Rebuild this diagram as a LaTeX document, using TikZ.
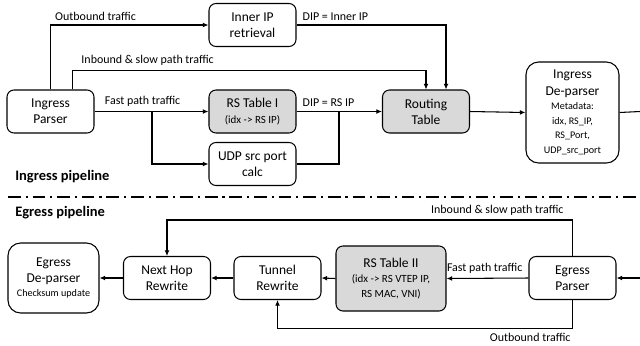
\documentclass[tikz,border=0pt]{standalone}
\usepackage{fontspec}
\setmainfont{Carlito}
\usetikzlibrary{arrows.meta}

\newcommand{\mainsz}{\fontsize{9.6}{11.5}\selectfont}
\newcommand{\smallsz}{\fontsize{7.8}{9}\selectfont}
\newcommand{\tinysz}{\fontsize{7.2}{8.5}\selectfont}

\begin{document}
\begin{tikzpicture}[x=0.025cm,y=-0.025cm,
  box/.style={draw,line width=0.75pt,rounded corners=5pt,align=center,font=\mainsz,
    minimum width=2.175cm,minimum height=1.075cm,inner sep=1pt},
  table/.style={box,fill=black!15},
  bigbox/.style={box,rounded corners=9pt},
  lbl/.style={font=\fontsize{8.5}{10}\selectfont,inner sep=1pt},
  arr/.style={-{Latex[length=4pt,width=3.5pt]},line width=0.75pt},
  conn/.style={line width=0.75pt},
  section/.style={font=\bfseries\fontsize{10.3}{12}\selectfont,anchor=west,inner sep=0pt}]
\useasboundingbox (0,0) rectangle (640,345);

\node[box] (ingparser) at (50.5,111.5) {Ingress\\Parser};
\node[box] (innerip) at (252.5,25) {Inner IP\\retrieval};
\node[table] (rstab1) at (252.5,111.5) {RS Table I\\{\smallsz (idx -> RS IP)}};
\node[box] (udpport) at (252.5,164) {UDP src port\\calc};
\node[table] (routing) at (426,111.5) {Routing\\Table};
\node[bigbox,minimum width=2.325cm,minimum height=2.525cm] (ingdeparser) at (572.5,112.5)
  {Ingress\\[1pt]De-parser\\[-2pt]{\tinysz Metadata:}\\[-1pt]{\tinysz idx, RS\_IP,}\\[-1pt]
   {\tinysz RS\_Port,}\\[-1pt]{\tinysz UDP\_src\_port}};

\coordinate (fork1) at (152,111.5);
\coordinate (join1) at (339,111.5);
\coordinate (out1) at (640,111.5);

\draw[arr] (ingparser.north) |- (innerip.west)
  node[lbl,pos=0.5,anchor=south west,xshift=2pt,yshift=2pt] {Outbound traffic};
\draw[arr] ([xshift=0.55cm]ingparser.north) -- ++(0,-19) -| (routing.north)
  node[lbl,pos=0,anchor=south west,xshift=5pt,yshift=2pt] {Inbound \& slow path traffic};
\draw[arr] (ingparser.east) -- (rstab1.west)
  node[lbl,pos=0,anchor=south west,xshift=6pt,yshift=2pt] {Fast path traffic};
\draw[arr] (fork1) |- (udpport.west);
\draw[arr] (innerip.east) -| ([xshift=0.5cm]routing.north)
  node[lbl,pos=0,anchor=south west,xshift=3pt,yshift=2pt] {DIP = Inner IP};
\draw[arr] (rstab1.east) -- (routing.west)
  node[lbl,pos=0,anchor=south west,xshift=3pt,yshift=2pt] {DIP = RS IP};
\draw[conn] (udpport.east) -| (join1);
\draw[arr] (routing.east) -- (ingdeparser.west);
\draw[conn] (ingdeparser.east) -- (out1);

\node[section] (inglabel) at (15,177) {Ingress pipeline};
\draw[line width=1.1pt,dash pattern=on 9pt off 3.5pt on 1.5pt off 3.5pt] (8,197) -- (636,197);
\node[section] (eglabel) at (15,213) {Egress pipeline};

\node[bigbox,minimum width=2.275cm,minimum height=1.75cm] (egdeparser) at (53.5,278)
  {Egress\\De-parser\\[-2pt]{\tinysz Checksum update}};
\node[box] (nexthop) at (167,278) {Next Hop\\Rewrite};
\node[box] (tunnel) at (277.5,278) {Tunnel\\Rewrite};
\node[table,minimum width=2.75cm,minimum height=1.625cm] (rstab2) at (391,278.5)
  {RS Table II\\[-1pt]{\smallsz (idx -> RS VTEP IP,}\\[-1pt]{\smallsz RS MAC, VNI)}};
\node[box] (egparser) at (572.5,278) {Egress\\Parser};

\coordinate (in2) at (640,278);

\draw[arr] (in2) -- (egparser.east);
\draw[arr] (egparser.west) -- (rstab2.east)
  node[lbl,pos=0,anchor=south east,xshift=-3pt,yshift=2pt] {Fast path traffic};
\draw[arr] (rstab2.west) -- (tunnel.east);
\draw[arr] (tunnel.west) -- (nexthop.east);
\draw[arr] (nexthop.west) -- (egdeparser.east);
\draw[arr] (egparser.north) -- ++(0,-36) -| (nexthop.north)
  node[lbl,pos=0,anchor=south east,xshift=-5pt,yshift=2pt] {Inbound \& slow path traffic};
\draw[arr] (egparser.south) -- ++(0,28) -| (tunnel.south)
  node[lbl,pos=0,anchor=north east,yshift=-2pt] {Outbound traffic};

\end{tikzpicture}
\end{document}
